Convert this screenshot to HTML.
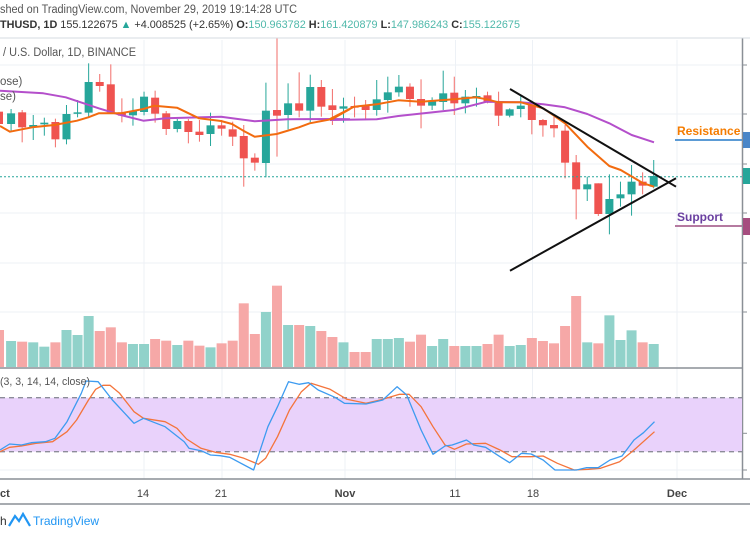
<!DOCTYPE html>
<html><head><meta charset="utf-8"><style>
html,body{margin:0;padding:0;background:#fff;overflow:hidden}
svg{display:block;font-family:"Liberation Sans",sans-serif}
</style></head><body>
<svg id="s" width="750" height="536" viewBox="0 0 750 536" xmlns="http://www.w3.org/2000/svg">
<rect width="750" height="536" fill="#fff"/>
<g id="grid" stroke="#edf1f6" stroke-width="1"></g>
<g id="vol"></g>
<g id="stochbg"></g>
<g id="cand"></g>
<g id="lines"></g>
<g id="txt"></g>
<text x="0" y="13" font-size="11.5" fill="#555" textLength="297" lengthAdjust="spacingAndGlyphs">shed on TradingView.com, November 29, 2019 19:14:28 UTC</text>
<text x="0" y="28" font-size="11" fill="#333" textLength="520" lengthAdjust="spacingAndGlyphs"><tspan font-weight="bold">THUSD, 1D</tspan> 155.122675 <tspan fill="#26a69a">▲</tspan> +4.008525 (+2.65%) <tspan font-weight="bold">O:</tspan><tspan fill="#4fb8aa">150.963782</tspan> <tspan font-weight="bold">H:</tspan><tspan fill="#4fb8aa">161.420879</tspan> <tspan font-weight="bold">L:</tspan><tspan fill="#4fb8aa">147.986243</tspan> <tspan font-weight="bold">C:</tspan><tspan fill="#4fb8aa">155.122675</tspan></text>
<line x1="0" y1="38" x2="750" y2="38" stroke="#d6dbe0"/>
<text x="3" y="56" font-size="11.5" fill="#555" textLength="133" lengthAdjust="spacingAndGlyphs">/ U.S. Dollar, 1D, BINANCE</text>
<text x="0" y="85" font-size="11.5" fill="#555">ose)</text>
<text x="0" y="100" font-size="11.5" fill="#555">se)</text>
<text x="0" y="385" font-size="11" fill="#555" textLength="90" lengthAdjust="spacingAndGlyphs">(3, 3, 14, 14, close)</text>
<text x="677" y="135" font-size="12" font-weight="bold" fill="#f57c00">Resistance</text>
<line x1="675" y1="140" x2="742" y2="140" stroke="#5b9bd5" stroke-width="2"/>
<text x="677" y="221" font-size="12" font-weight="bold" fill="#6a3fa0">Support</text>
<line x1="675" y1="226" x2="742" y2="226" stroke="#b57aa0" stroke-width="2"/>
<rect x="743" y="132" width="7" height="16" fill="#4a86c8"/>
<rect x="743" y="168" width="7" height="16" fill="#26a69a"/>
<rect x="743" y="218" width="7" height="17" fill="#a64d7f"/>
<text x="0" y="497" font-size="11" font-weight="bold" fill="#444">ct</text>
<text x="143" y="497" font-size="11" fill="#444" text-anchor="middle">14</text>
<text x="221" y="497" font-size="11" fill="#444" text-anchor="middle">21</text>
<text x="345" y="497" font-size="11" font-weight="bold" fill="#444" text-anchor="middle">Nov</text>
<text x="455" y="497" font-size="11" fill="#444" text-anchor="middle">11</text>
<text x="533" y="497" font-size="11" fill="#444" text-anchor="middle">18</text>
<text x="677" y="497" font-size="11" font-weight="bold" fill="#444" text-anchor="middle">Dec</text>
<line x1="0" y1="504" x2="750" y2="504" stroke="#8a8f96" stroke-width="1.5"/>
<text x="0" y="525" font-size="12" fill="#333">h</text>
<path d="M9 526 L15 516 L19 521 L23 514 L30 526" fill="none" stroke="#2196f3" stroke-width="2.2"/>
<text x="33" y="525" font-size="12" fill="#2196f3">TradingView</text>
</svg>
<script>
var NS="http://www.w3.org/2000/svg";
function el(p,t,a){var e=document.createElementNS(NS,t);for(var k in a)e.setAttribute(k,a[k]);document.getElementById(p).appendChild(e);return e;}
[65,114,164,213,263,312].forEach(function(y){el('grid','line',{x1:0,y1:y,x2:742,y2:y});});
[144,222,345,455.5,532.5,677].forEach(function(x){el('grid','line',{x1:x,y1:40,x2:x,y2:479});});
el('grid','line',{x1:0,y1:433.3,x2:742,y2:433.3});
el('grid','line',{x1:0,y1:470,x2:742,y2:470});
el('grid','line',{x1:0,y1:368,x2:742,y2:368,stroke:'#8a8f96','stroke-width':1.5});
el('grid','line',{x1:0,y1:479,x2:750,y2:479,stroke:'#8a8f96','stroke-width':1.5});
el('grid','line',{x1:742.5,y1:38,x2:742.5,y2:479,stroke:'#8a8f96','stroke-width':1.5});
[65,114,164,213,263,312,433.3,470].forEach(function(y){el('grid','line',{x1:742,y1:y,x2:747,y2:y,stroke:'#8a8f96'});});
el('stochbg','rect',{x:0,y:397.7,width:742,height:54,fill:'#e9d2fb'});
el('stochbg','line',{x1:0,y1:397.7,x2:742,y2:397.7,stroke:'#8c8c99','stroke-dasharray':'5,4','stroke-width':1.3});
el('stochbg','line',{x1:0,y1:451.7,x2:742,y2:451.7,stroke:'#8c8c99','stroke-dasharray':'5,4','stroke-width':1.3});
el('lines','line',{x1:0,y1:176.7,x2:742,y2:176.7,stroke:'#26a69a','stroke-dasharray':'2,2'});
var C=[
[0,215,252,205,262],
[1,220,252,207,275],[0,217,262,210,307],[1,255,262,225,300],[1,248,253,233,287],[0,246,298,236,322],
[1,222,298,195,313],[1,217,220,180,232],[1,126,218,70,232],[0,126,138,102,155],[0,133,217,73,222],
[0,217,227,175,247],[1,213,226,175,257],[1,170,216,155,226],[0,173,221,152,248],[0,220,267,213,285],
[1,243,267,237,277],[0,243,276,237,310],[0,275,285,240,305],[1,256,282,218,318],[0,256,266,240,287],
[0,268,290,245,318],[0,288,355,255,440],[0,353,368,340,392],[1,212,369,128,412],[0,210,227,-6,350],
[1,190,225,130,268],[0,190,212,97,232],[1,141,212,104,247],[0,141,200,120,230],[0,196,210,147,255],
[1,199,206,173,248],[0,198,203,170,232],[0,197,210,180,237],[1,178,210,120,227],[1,157,180,110,218],
[1,140,157,105,170],[0,140,177,130,200],[0,177,197,118,265],[1,183,197,172,210],[1,160,186,92,210],
[0,158,190,110,225],[1,170,190,150,220],[1,168,175,143,200],[0,166,188,155,190],[0,188,227,155,258],
[1,208,227,205,232],[1,197,207,165,232],[0,193,240,190,283],[0,240,256,237,290],[0,255,265,230,292],
[0,272,368,255,415],[0,367,448,345,538],[1,433,448,410,483],[0,430,522,430,528],[1,477,522,403,583],
[1,463,475,425,500],[1,425,463,375,527],[0,425,437,397,463],[1,408,440,360,445]];
var V=[870,903,905,907,920,907,870,885,828,873,862,907,912,912,897,902,915,902,917,922,910,902,790,882,816,737,855,855,858,873,891,907,936,936,897,897,894,905,884,918,897,918,918,918,912,884,918,915,894,903,910,858,768,907,910,826,900,871,907,912];
function X(i){return -1+i*11.08+(i>0?1:0);}
C.forEach(function(c,i){
  var x=X(i); var col=c[0]?'#26a69a':'#ef5350';
  var y=function(v){return 40+v/3;};
  el('cand','line',{x1:x,y1:y(c[3]),x2:x,y2:y(c[4]),stroke:c[0]?'#26a69a':'#f26d6a','stroke-width':1});
  var h=Math.max(1.5,(c[2]-c[1])/3);
  el('cand','rect',{x:x-4,y:y(c[1]),width:8,height:h,fill:col});
});
V.forEach(function(v,i){
  var x=X(i); var t=40+v/3;
  el('vol','rect',{x:x-5,y:t,width:10,height:367-t,fill:C[i][0]?'#91d2ca':'#f6a8a7'});
});
function pl(pts,ox,col,w,sx,sy,oy){
  var s=pts.map(function(p){return (ox+p[0]/sx).toFixed(1)+','+(oy+p[1]/sy).toFixed(1);}).join(' ');
  el('lines','polyline',{points:s,fill:'none',stroke:col,'stroke-width':w,'stroke-linejoin':'round'});
}
var purple=[[0,152],[130,160],[197,172],[296,205],[362,225],[430,242],[497,235],[663,230],[764,244],[863,238],[997,237],[1050,238]];
var purple2=[[0,240],[140,238],[205,228],[372,210],[470,185],[572,187],[640,193],[705,202],[772,222],[838,250],[905,285],[972,307]];
pl(purple,0,'#b44fcb',2,3,3,40);pl(purple2,330,'#b44fcb',2,3,3,40);
var orange=[[0,258],[30,275],[97,262],[163,255],[231,242],[265,232],[296,220],[362,220],[430,207],[463,197],[531,203],[597,235],[663,243],[696,252],[730,272],[764,290],[830,282],[897,262],[929,250],[997,237],[1050,207]];
var orange2=[[0,237],[72,200],[140,193],[205,181],[272,185],[372,178],[438,172],[470,178],[505,187],[572,187],[640,205],[705,250],[772,320],[838,378],[872,390],[940,430],[972,440]];
pl(orange,0,'#f26b0f',2,3,3,40);pl(orange2,330,'#f26b0f',2,3,3,40);
el('lines','line',{x1:510,y1:89,x2:676,y2:186.7,stroke:'#111','stroke-width':2});
el('lines','line',{x1:510,y1:270.7,x2:676,y2:178.3,stroke:'#111','stroke-width':2});
var blue=[[0,270],[20,252],[45,255],[65,248],[95,245],[115,235],[140,185],[170,100],[180,63],[205,65],[235,120],[280,190],[300,175],[345,200],[385,245],[395,265],[420,272],[440,285],[460,287],[480,292],[530,330],[560,200],[580,140],[603,65],[625,73],[645,68],[665,90],[700,112],[720,130],[765,132],[800,120],[830,80],[850,105],[880,210],[905,283],[930,258],[945,255],[975,240],[990,255],[1015,262],[1045,290],[1065,308],[1090,280],[1110,282],[1135,300],[1160,330],[1205,330],[1225,323],[1250,323],[1275,300],[1300,288],[1325,240],[1345,218],[1368,185]];
var org=[[0,275],[20,262],[45,258],[75,250],[110,245],[140,215],[160,180],[185,120],[200,88],[215,76],[230,76],[250,100],[280,155],[300,175],[345,185],[370,205],[390,237],[420,265],[450,277],[480,283],[510,295],[540,313],[555,295],[580,230],[605,150],[630,95],[650,70],[690,88],[725,118],[765,130],[800,118],[835,103],[855,103],[880,140],[905,200],[930,255],[950,268],[975,252],[1015,250],[1045,270],[1070,290],[1110,290],[1135,288],[1165,310],[1200,330],[1230,328],[1255,325],[1295,305],[1325,270],[1368,215]];
pl(org,0,'#f4743b',1.3,2.09,3,360);pl(blue,0,'#3d9bf0',1.3,2.09,3,360);
</script>
</body></html>
